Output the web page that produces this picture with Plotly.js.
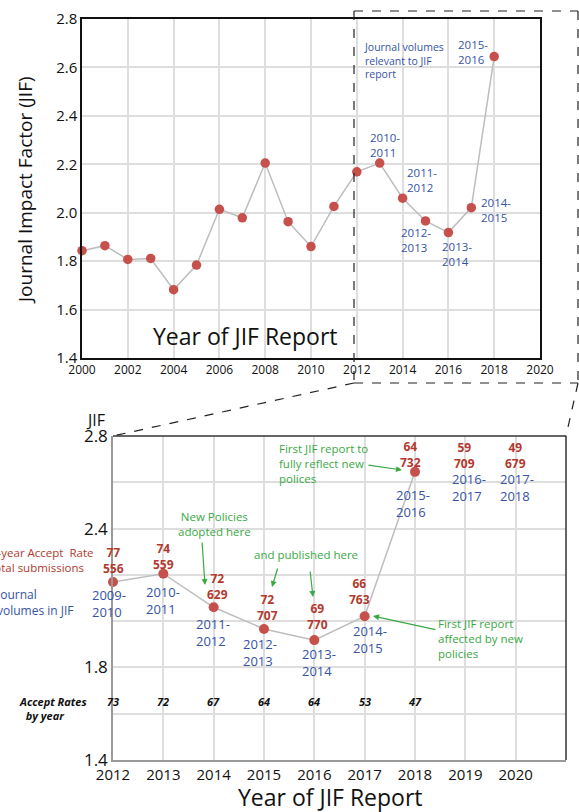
<!DOCTYPE html>
<html>
<head>
<meta charset="utf-8">
<script src="https://cdn.plot.ly/plotly-3.0.1.min.js"></script>
<style>html,body{margin:0;padding:0;background:#fff;}#chart{width:579px;height:812px;}</style>
</head>
<body>
<div id="chart"></div>
<script>
// ---------- DATA ----------
const years = [2000,2001,2002,2003,2004,2005,2006,2007,2008,2009,2010,2011,2012,2013,2014,2015,2016,2017,2018];
const jif = [1.843,1.864,1.807,1.811,1.682,1.784,2.014,1.979,2.205,1.963,1.860,2.026,2.169,2.205,2.060,1.966,1.918,2.021,2.645];

const topVolYears = [2013,2014,2015,2016,2017,2018];
const topVolLabels = ['2010-<br>2011','2011-<br>2012','2012-<br>2013','2013-<br>2014','2014-<br>2015','2015-<br>2016'];

const zoomYears = [2012,2013,2014,2015,2016,2017,2018,2019,2020];
const acceptRate3yr = [77,74,72,72,69,66,64,59,49];
const totalSubmissions = [556,559,629,707,770,763,732,709,679];
const volumeLabels = ['2009-<br>2010','2010-<br>2011','2011-<br>2012','2012-<br>2013','2013-<br>2014','2014-<br>2015','2015-<br>2016','2016-<br>2017','2017-<br>2018'];

const rateYears = [2012,2013,2014,2015,2016,2017,2018];
const annualAcceptRates = [73,72,67,64,64,53,47];

const topXTicks = [2000,2002,2004,2006,2008,2010,2012,2014,2016,2018,2020];
const zoomXTicks = [2012,2013,2014,2015,2016,2017,2018,2019,2020,2021];
const zoomYTickVals = [1.4,1.6,1.8,2.0,2.2,2.4,2.6,2.8];
const zoomYTickText = ['1.4','','1.8','','','2.4','','2.8'];

// ---------- STYLE / POSITIONS ----------
const W = 579, H = 812;
const px = v => v / W;
const py = v => 1 - v / H;
const FONT = 'Open Sans, sans-serif';
const BLUE = '#3653a5';
const RED = '#b3392e';
const GREEN = '#3aa845';
const MARK = '#c5504c';
const LINE = '#bdbdbd';
const GRID = '#dedede';

const jifOf = y => jif[years.indexOf(y)];

const topOff = [[5,18],[19,18],[-10,-19.5],[9,-21],[25,-2.5],[-21,4.7]];
const redOff = [[0,22],[0,17],[4,21],[3,22],[3,24],[-5,25],[-5,17],[-1,-19],[0,-19]];
const blueOff = [[-4,-21],[0,-27],[-1,-25.5],[-4,-23],[5,-22],[5,-23],[-2,-31.5],[4,-51],[1,-51]];

const traces = [
  {x: years, y: jif, xaxis:'x', yaxis:'y', mode:'lines+markers', type:'scatter', cliponaxis:false,
   line:{color:LINE, width:1.5}, marker:{color:MARK, size:9.5}, hoverinfo:'x+y', name:'JIF'},
  {x: years.filter(y=>y>=2012), y: jif.filter((v,i)=>years[i]>=2012), xaxis:'x2', yaxis:'y2', mode:'lines+markers', type:'scatter', cliponaxis:false,
   line:{color:LINE, width:1.5}, marker:{color:MARK, size:10}, hoverinfo:'x+y', name:'JIF (zoom)'}
];

const annotations = [];
function note(o){ annotations.push(Object.assign({xref:'paper', yref:'paper', xanchor:'center', yanchor:'middle', showarrow:false}, o)); }

// top chart volume labels
topVolYears.forEach((yr,i)=>{
  note({xref:'x', yref:'y', x:yr, y:jifOf(yr), xshift:topOff[i][0], yshift:topOff[i][1],
    text:topVolLabels[i], align:'left', font:{family:FONT, size:11.5, color:BLUE}});
});
note({x:px(362), y:py(60), xanchor:'left', align:'left',
  text:'Journal volumes<br>relevant to JIF<br>report', font:{family:FONT, size:10.5, color:BLUE}});
// top titles
note({x:px(25), y:py(190), textangle:-90,
  text:'Journal Impact Factor (JIF)', font:{family:FONT, size:19, color:'#111'}});
note({x:px(245), y:py(336),
  text:'Year of JIF Report', font:{family:FONT, size:23, color:'#111'}});

// bottom chart labels
zoomYears.forEach((yr,i)=>{
  const yv = jifOf(yr);
  const yy = (yv === undefined) ? 2.8 : yv;
  note({xref:'x2', yref:'y2', x:yr, y:yy, xshift:redOff[i][0], yshift:redOff[i][1],
    text:'<b>'+acceptRate3yr[i]+'<br>'+totalSubmissions[i]+'</b>', font:{family:FONT, size:12, color:RED}});
  note({xref:'x2', yref:'y2', x:yr, y:yy, xshift:blueOff[i][0], yshift:blueOff[i][1],
    text:volumeLabels[i], align:'left', font:{family:FONT, size:13, color:BLUE}});
});
rateYears.forEach((yr,i)=>{
  note({xref:'x2', x:yr, y:py(701),
    text:'<b><i>'+annualAcceptRates[i]+'</i></b>', font:{family:FONT, size:11, color:'#111'}});
});
note({x:px(17), y:py(708), xanchor:'left', align:'left',
  text:'<b><i>Accept Rates<br>  by year</i></b>', font:{family:FONT, size:11, color:'#111'}});
// cut-off legend text at left
note({x:px(95), y:py(552), xanchor:'right',
  text:'3-year Accept  Rate', font:{family:FONT, size:11.5, color:RED}});
note({x:px(86), y:py(567), xanchor:'right',
  text:'Total submissions', font:{family:FONT, size:11.5, color:RED}});
note({x:px(-6), y:py(602), xanchor:'left', align:'left',
  text:'Journal<br>volumes in JIF', font:{family:FONT, size:12, color:BLUE}});
// JIF label and x title
note({x:px(95), y:py(420),
  text:'JIF', font:{family:FONT, size:16, color:'#111'}});
note({x:px(330), y:py(797),
  text:'Year of JIF Report', font:{family:FONT, size:23, color:'#111'}});
// green notes
note({x:px(214), y:py(524),
  text:'New Policies<br>adopted here', font:{family:FONT, size:11.5, color:GREEN}});
note({x:px(306), y:py(554),
  text:'and published here', font:{family:FONT, size:11.5, color:GREEN}});
note({x:px(277), y:py(439), xanchor:'left', yanchor:'top', align:'left',
  text:'First JIF report to<br>fully reflect new<br>polices', font:{family:FONT, size:11.5, color:GREEN}});
note({x:px(436), y:py(638), xanchor:'left', align:'left',
  text:'First JIF report<br>affected by new<br>policies', font:{family:FONT, size:11.5, color:GREEN}});
// green arrows [tailX, tailY, tipX, tipY]
[[202,541,205,585],[278,567,272,587],[310,570,313,597],[367,465,402,470],[437,630,373,616]].forEach(a=>{
  annotations.push({xref:'paper', yref:'paper', x:px(a[2]), y:py(a[3]), ax:a[0]-a[2], ay:a[1]-a[3], text:'',
    showarrow:true, arrowhead:2, arrowsize:1, arrowwidth:1.2, arrowcolor:GREEN});
});

const dash = {color:'#222', width:1.2, dash:'dash'};
const shapes = [
  // dashed zoom box
  {type:'line', xref:'paper', yref:'paper', x0:px(354), y0:py(11), x1:px(578), y1:py(11), line:dash},
  {type:'line', xref:'paper', yref:'paper', x0:px(354), y0:py(11), x1:px(354), y1:py(383), line:dash},
  {type:'line', xref:'paper', yref:'paper', x0:px(578), y0:py(11), x1:px(578), y1:py(383), line:dash},
  {type:'line', xref:'paper', yref:'paper', x0:px(354), y0:py(383), x1:px(578), y1:py(383), line:dash},
  {type:'line', xref:'paper', yref:'paper', x0:px(354), y0:py(383), x1:px(113), y1:py(436), line:dash},
  {type:'line', xref:'paper', yref:'paper', x0:px(578), y0:py(383), x1:px(566), y1:py(436), line:dash},
  // bottom chart top/right border
  {type:'line', xref:'x2 domain', yref:'y2 domain', x0:0, y0:1, x1:1, y1:1, line:{color:'#333', width:1.5}},
  {type:'line', xref:'x2 domain', yref:'y2 domain', x0:1, y0:0, x1:1, y1:1, line:{color:'#333', width:1.5}}
];

const layout = {
  width: W, height: H,
  margin:{l:0, r:0, t:0, b:0},
  paper_bgcolor:'#fff', plot_bgcolor:'#fff',
  showlegend:false,
  font:{family:FONT, color:'#111'},
  xaxis:{domain:[px(82), px(540)], anchor:'y', range:[2000,2020], tickvals:topXTicks, showgrid:true, gridcolor:GRID, gridwidth:1.5,
    showline:true, linecolor:'#111', linewidth:1.5, mirror:true, ticks:'', zeroline:false, tickfont:{size:12, color:'#111'}},
  yaxis:{domain:[py(358), py(19)], anchor:'x', range:[1.4,2.8], dtick:0.2, tickformat:'.1f', showgrid:true, gridcolor:GRID, gridwidth:1.5,
    showline:true, linecolor:'#111', linewidth:1.5, mirror:true, ticks:'', zeroline:false, tickfont:{size:15, color:'#111'}},
  xaxis2:{domain:[px(113), px(566)], anchor:'y2', range:[2012,2021], tickvals:zoomXTicks, showgrid:true, gridcolor:GRID, gridwidth:1.5,
    showline:true, linecolor:'#999', linewidth:1.5, ticks:'', zeroline:false, tickfont:{size:15, color:'#111'}},
  yaxis2:{domain:[py(760), py(436)], anchor:'x2', range:[1.4,2.8], tickvals:zoomYTickVals, ticktext:zoomYTickText, showgrid:true, gridcolor:GRID, gridwidth:1.5,
    showline:true, linecolor:'#999', linewidth:1.5, ticks:'', zeroline:false, tickfont:{size:17, color:'#111'}},
  annotations: annotations,
  shapes: shapes
};

Plotly.newPlot('chart', traces, layout, {displayModeBar:false, responsive:false});
</script>
</body>
</html>
